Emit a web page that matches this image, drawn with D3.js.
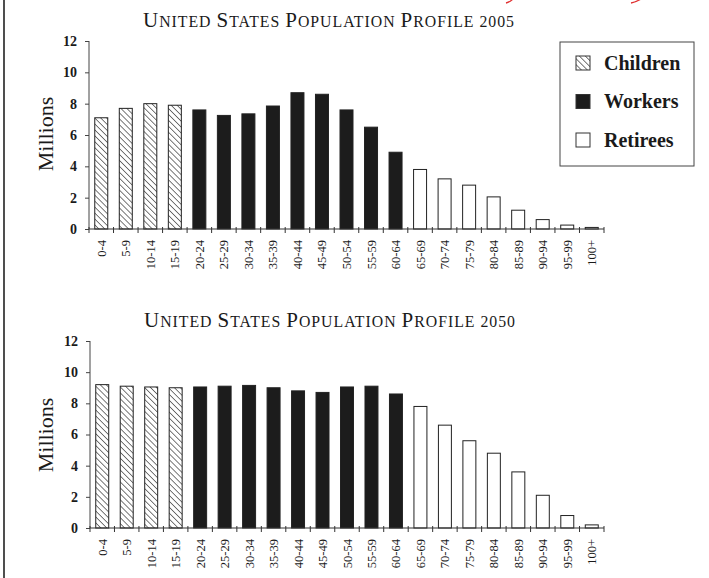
<!DOCTYPE html>
<html><head><meta charset="utf-8">
<script src="https://cdn.jsdelivr.net/npm/d3@7"></script>
<style>
html,body{margin:0;padding:0;background:#fff;}
svg{display:block;}
text{font-family:"Liberation Serif","DejaVu Serif",serif;fill:#1a1a1a;}
</style></head>
<body>
<script>
const ageGroups = ["0-4","5-9","10-14","15-19","20-24","25-29","30-34","35-39","40-44","45-49","50-54","55-59","60-64","65-69","70-74","75-79","80-84","85-89","90-94","95-99","100+"];
const groupOf = ["Children","Children","Children","Children","Workers","Workers","Workers","Workers","Workers","Workers","Workers","Workers","Workers","Retirees","Retirees","Retirees","Retirees","Retirees","Retirees","Retirees","Retirees"];
const pop2005 = [7.1,7.7,8.0,7.9,7.6,7.25,7.35,7.85,8.7,8.6,7.6,6.5,4.9,3.8,3.2,2.8,2.05,1.2,0.6,0.25,0.1];
const pop2050 = [9.2,9.1,9.05,9.0,9.05,9.1,9.15,9.0,8.8,8.7,9.05,9.1,8.6,7.8,6.6,5.6,4.8,3.6,2.1,0.8,0.2];
const yTicks = [0,2,4,6,8,10,12];
const legendItems = ["Children","Workers","Retirees"];
const titles = ["United States Population Profile 2005","United States Population Profile 2050"];

const W = 709, H = 578;
const svg = d3.select("body").append("svg").attr("width", W).attr("height", H);

const defs = svg.append("defs");
const pat = defs.append("pattern").attr("id","hatch").attr("patternUnits","userSpaceOnUse")
  .attr("width",4.2).attr("height",4.2).attr("patternTransform","rotate(-45)");
pat.append("rect").attr("width",4.2).attr("height",4.2).attr("fill","#fff");
pat.append("line").attr("x1",0).attr("y1",0).attr("x2",0).attr("y2",4.2)
  .attr("stroke","#222").attr("stroke-width",1.2);

const fillFor = g => g === "Children" ? "url(#hatch)" : (g === "Workers" ? "#1c1c1c" : "#fff");

// left page border
svg.append("line").attr("x1",4).attr("x2",4).attr("y1",0).attr("y2",H)
  .attr("stroke","#222").attr("stroke-width",1.6);

// red stray marks at top
svg.append("path").attr("d","M506,3 Q510,2 513,-1").attr("stroke","#e03030").attr("fill","none").attr("stroke-width",1.3);
svg.append("path").attr("d","M631,3 Q636,2 641,-1").attr("stroke","#e03030").attr("fill","none").attr("stroke-width",1.3);

function smallCaps(textSel, str, big, small) {
  const runs = [];
  for (const ch of str) {
    const isBig = ch >= "A" && ch <= "Z";
    const size = isBig ? big : small;
    if (runs.length && runs[runs.length-1].size === size) runs[runs.length-1].t += ch.toUpperCase();
    else runs.push({size, t: ch.toUpperCase()});
  }
  textSel.selectAll("tspan").data(runs).join("tspan")
    .style("font-size", d => d.size + "px").text(d => d.t);
}

function drawChart(values, title, opts) {
  const g = svg.append("g");
  const x = d3.scaleBand().domain(ageGroups).range([opts.x0, 604]).paddingInner(0.47).paddingOuter(0.235);
  const y = d3.scaleLinear().domain([0,12]).range([opts.y0, opts.y1]);

  const t = g.append("text").attr("x", opts.tx).attr("y", opts.ty).attr("text-anchor","middle")
    .style("letter-spacing","1px");
  smallCaps(t, title, 21, 15.8);

  g.selectAll("rect.bar").data(values).join("rect").attr("class","bar")
    .attr("x",(d,i)=>x(ageGroups[i])).attr("width",x.bandwidth())
    .attr("y",d=>y(d)).attr("height",d=>y(0)-y(d))
    .attr("fill",(d,i)=>fillFor(groupOf[i])).attr("stroke","#222").attr("stroke-width",1);

  const ya = g.append("g").attr("transform",`translate(${opts.x0},0)`)
    .call(d3.axisLeft(y).tickValues(yTicks).tickSize(4).tickPadding(8));
  ya.select(".domain").attr("stroke","#444").attr("d",`M0,${y(12)}V${y(0)}`);
  ya.selectAll(".tick line").attr("stroke","#444");
  ya.selectAll(".tick text").style("font-size","14px").style("font-weight","bold")
    .style("font-family","'Liberation Serif',serif").attr("fill","#1a1a1a");

  g.append("line").attr("x1",opts.x0).attr("x2",604).attr("y1",y(0)).attr("y2",y(0))
    .attr("stroke","#333").attr("stroke-width",1.2);
  const bounds = d3.range(ageGroups.length + 1).map(i => opts.x0 + i * (604 - opts.x0) / ageGroups.length);
  g.selectAll("line.bt").data(bounds).join("line").attr("class","bt")
    .attr("x1",d=>d).attr("x2",d=>d).attr("y1",y(0)-2).attr("y2",y(0)+4)
    .attr("stroke","#333").attr("stroke-width",1);

  g.selectAll("text.xl").data(ageGroups).join("text").attr("class","xl")
    .attr("transform",d=>`translate(${x(d)+x.bandwidth()/2+4.5},${y(0)+11}) rotate(-90)`)
    .attr("text-anchor","end").style("font-size","12.5px").text(d=>d);

  g.append("text").attr("transform",`translate(${opts.mx},${opts.my}) rotate(-90)`)
    .attr("text-anchor","middle").style("font-size","22px").text("Millions");
}

drawChart(pop2005, titles[0], {x0:89, y0:229, y1:41, tx:329, ty:26.5, mx:53, my:134});
drawChart(pop2050, titles[1], {x0:90, y0:528, y1:341, tx:330, ty:327, mx:53, my:435});

const lg = svg.append("g");
lg.append("rect").attr("x",560).attr("y",42).attr("width",134).attr("height",124)
  .attr("fill","#fff").attr("stroke","#444").attr("stroke-width",1);
const ly = d3.scalePoint().domain(legendItems).range([63,140]);
lg.selectAll("rect.sw").data(legendItems).join("rect").attr("class","sw")
  .attr("x",576).attr("y",d=>ly(d)-7).attr("width",14).attr("height",14)
  .attr("fill",d=>fillFor(d)).attr("stroke","#333").attr("stroke-width",1);
lg.selectAll("text.lt").data(legendItems).join("text").attr("class","lt")
  .attr("x",604).attr("y",d=>ly(d)+6.5).style("font-size","20px").style("font-weight","bold")
  .text(d=>d);
</script>
</body></html>
